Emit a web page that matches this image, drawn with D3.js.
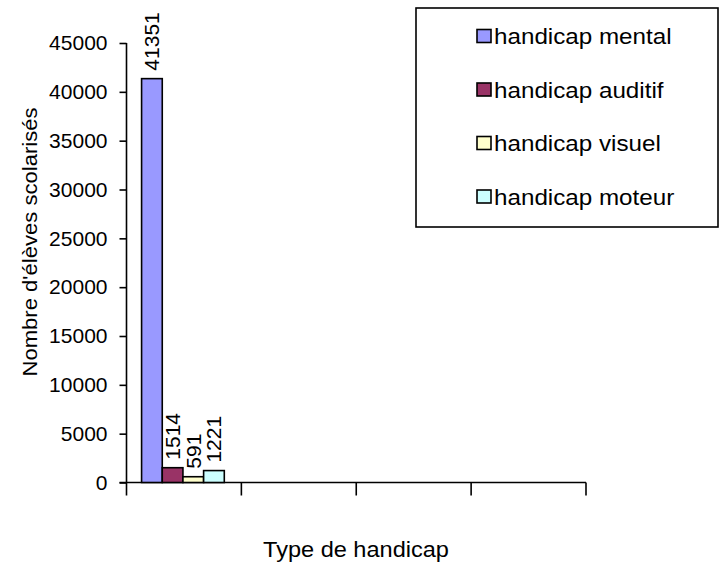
<!DOCTYPE html>
<html><head><meta charset="utf-8">
<script src="https://cdn.jsdelivr.net/npm/d3@7"></script>
<style>body{margin:0;background:#fff}svg{display:block}text{font-family:"Liberation Sans",Arial,sans-serif;fill:#000}</style>
</head><body>
<script>
const categories = ["", "", "", ""];
const seriesNames = ["handicap mental", "handicap auditif", "handicap visuel", "handicap moteur"];
const seriesColors = ["#9999FF", "#993366", "#FFFFCC", "#CCFFFF"];
const mental = [41351, null, null, null];
const auditif = [1514, null, null, null];
const visuel = [591, null, null, null];
const moteur = [1221, null, null, null];
const yTicks = [0, 5000, 10000, 15000, 20000, 25000, 30000, 35000, 40000, 45000];
const xTitle = "Type de handicap";
const yTitle = "Nombre d'élèves scolarisés";

const W = 724, H = 565;
const svg = d3.select("body").append("svg").attr("width", W).attr("height", H);
const m = {left: 126.5, right: 586, top: 43, bottom: 482.5};
const SW = 1.6;

function stretch(sel, f) {
  sel.each(function () {
    const L = this.getComputedTextLength();
    d3.select(this).attr("textLength", L * f).attr("lengthAdjust", "spacingAndGlyphs");
  });
}

const x = d3.scaleBand().domain(d3.range(categories.length)).range([m.left, m.right]).padding(0);
const y = d3.scaleLinear().domain([0, 45000]).range([m.bottom, m.top]);
const groupFrac = 0.72;
const xs = d3.scaleBand().domain(d3.range(seriesNames.length))
  .range([x.bandwidth() * (1 - groupFrac) / 2 - 1, x.bandwidth() * (1 + groupFrac) / 2 - 1]).padding(0);

const series = [mental, auditif, visuel, moteur];

// y axis
const yAxis = svg.append("g").attr("transform", `translate(${m.left},0)`)
  .call(d3.axisLeft(y).tickValues(yTicks).tickFormat(d3.format("d")).tickSize(7).tickPadding(12));
yAxis.selectAll("text").style("font-size", "21px").attr("fill", "#000").attr("font-family", null);
yAxis.selectAll("line,path").attr("stroke", "#000").attr("stroke-width", SW);
yAxis.select("path").attr("d", `M0,${m.top}V${m.bottom}`);

// x axis, ticks at band boundaries
const xg = svg.append("g").attr("transform", `translate(0,${m.bottom})`);
xg.append("line").attr("x1", m.left - 7).attr("x2", m.right).attr("stroke", "#000").attr("stroke-width", SW);
const bounds = categories.map((c, i) => x(i)).concat([x(categories.length - 1) + x.bandwidth()]);
xg.selectAll("line.t").data(bounds).join("line").attr("class", "t")
  .attr("x1", d => d).attr("x2", d => d).attr("y1", 0).attr("y2", 13).attr("stroke", "#000").attr("stroke-width", SW);

// bars and value labels
categories.forEach((c, ci) => {
  series.forEach((s, si) => {
    const v = s[ci];
    if (v == null) return;
    const bx = x(ci) + xs(si);
    svg.append("rect").attr("x", bx).attr("y", y(v)).attr("width", xs.bandwidth()).attr("height", y(0) - y(v))
      .attr("fill", seriesColors[si]).attr("stroke", "#000").attr("stroke-width", SW);
    svg.append("text").attr("transform", `translate(${bx + xs.bandwidth() / 2 + 7.5},${y(v) - 8}) rotate(-90)`)
      .attr("text-anchor", "start").style("font-size", "21px").text(v);
  });
});

// axis titles
svg.append("text").attr("x", 356).attr("y", 557).attr("text-anchor", "middle").style("font-size", "22px").text(xTitle)
  .call(stretch, 1.07);
svg.append("text").attr("transform", `translate(37,242) rotate(-90)`).attr("text-anchor", "middle").style("font-size", "21px").text(yTitle)
  .call(stretch, 1.05);

// legend
const lg = svg.append("g");
lg.append("rect").attr("x", 416).attr("y", 8).attr("width", 302).attr("height", 219).attr("fill", "#fff").attr("stroke", "#000").attr("stroke-width", SW);
seriesNames.forEach((n, i) => {
  const cy = 36 + i * 53.5;
  lg.append("rect").attr("x", 477).attr("y", cy - 6.5).attr("width", 14).attr("height", 13).attr("fill", seriesColors[i]).attr("stroke", "#000").attr("stroke-width", SW);
  lg.append("text").attr("x", 494).attr("y", cy + 8).style("font-size", "22px").text(n).call(stretch, 1.1);
});
</script>
</body></html>
